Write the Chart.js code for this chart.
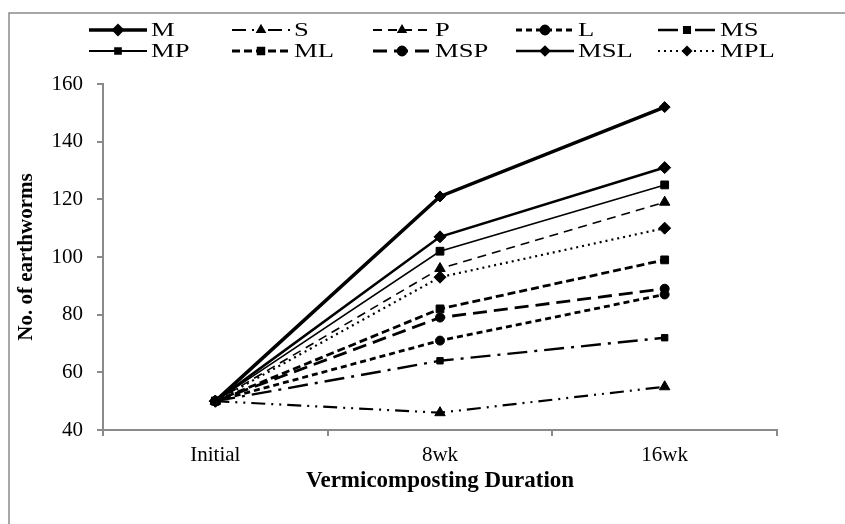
<!DOCTYPE html>
<html>
<head>
<meta charset="utf-8">
<script src="https://cdn.jsdelivr.net/npm/chart.js@4.4.0/dist/chart.umd.min.js"></script>
<style>
  html, body { margin: 0; padding: 0; background: #fff; }
  #wrap { width: 845px; height: 524px; }
</style>
</head>
<body>
<div id="wrap"><canvas id="chart"></canvas></div>
<script>
// data
const durations = ["Initial", "8wk", "16wk"];
const treatments = ["M", "S", "P", "L", "MS", "MP", "ML", "MSP", "MSL", "MPL"];
const M   = [50, 121, 152];
const S   = [50, 46, 55];
const P   = [50, 96, 119];
const L   = [50, 71, 87];
const MS  = [50, 64, 72];
const MP  = [50, 102, 125];
const ML  = [50, 82, 99];
const MSP = [50, 79, 89];
const MSL = [50, 107, 131];
const MPL = [50, 93, 110];
const yTicks = [40, 60, 80, 100, 120, 140, 160];

const serif = "'Liberation Serif', 'Times New Roman', serif";

// look of each series (line dash, width, marker)
const styles = {
  M:   { w: 3.5, dash: [],              pt: "rectRot",  r: 5.5 },
  S:   { w: 2.2, dash: [14, 6, 2, 6, 2, 6], pt: "triangle", r: 6 },
  P:   { w: 1.6, dash: [9, 6],          pt: "triangle", r: 6 },
  L:   { w: 2.8, dash: [6, 4],          pt: "circle",   r: 4.5 },
  MS:  { w: 2.4, dash: [20, 7, 3, 7],   pt: "rect",     r: 4.5 },
  MP:  { w: 1.6, dash: [],              pt: "rect",     r: 5.5 },
  ML:  { w: 2.8, dash: [8, 4],          pt: "rect",     r: 5.5 },
  MSP: { w: 2.8, dash: [14, 7],         pt: "circle",   r: 4.5 },
  MSL: { w: 2.6, dash: [],              pt: "rectRot",  r: 6 },
  MPL: { w: 2.2, dash: [2, 4],          pt: "rectRot",  r: 6 }
};
const values = { M, S, P, L, MS, MP, ML, MSP, MSL, MPL };

const datasets = treatments.map(name => {
  const s = styles[name];
  return {
    label: name,
    data: values[name],
    borderColor: "#000",
    backgroundColor: "#000",
    borderWidth: s.w,
    borderDash: s.dash,
    pointStyle: s.pt,
    pointRadius: s.r,
    pointHoverRadius: s.r,
    pointBorderWidth: 1,
    tension: 0
  };
});

// frame + two-row legend drawn like the original
const paperLegend = {
  id: "paperLegend",
  beforeDraw(chart) {
    const ctx = chart.ctx;
    ctx.save();
    ctx.strokeStyle = "#8a8a8a";
    ctx.lineWidth = 1.5;
    ctx.beginPath();
    ctx.moveTo(9, 530);
    ctx.lineTo(9, 13);
    ctx.lineTo(850, 13);
    ctx.stroke();
    ctx.restore();
  },
  afterDraw(chart) {
    const ctx = chart.ctx;
    const colX = [89, 232, 373, 516, 658];
    const rowY = [30, 51];
    ctx.save();
    ctx.font = "19px " + serif;
    ctx.textBaseline = "middle";
    ctx.fillStyle = "#000";
    chart.data.datasets.forEach((ds, i) => {
      const x = colX[i % 5], y = rowY[Math.floor(i / 5)];
      ctx.strokeStyle = "#000";
      ctx.lineWidth = Math.max(ds.borderWidth, 2);
      ctx.setLineDash(ds.borderDash);
      ctx.beginPath();
      ctx.moveTo(x, y);
      ctx.lineTo(x + 58, y);
      ctx.stroke();
      ctx.setLineDash([]);
      Chart.helpers.drawPoint(ctx, {
        pointStyle: ds.pointStyle, radius: 4, rotation: 0, borderWidth: 1
      }, x + 29, y);
      // the original legend text is drawn wide
      ctx.save();
      ctx.translate(x + 62, y + 1);
      ctx.scale(1.4, 1);
      ctx.fillText(ds.label, 0, 0);
      ctx.restore();
    });
    ctx.restore();
  }
};

new Chart(document.getElementById("chart"), {
  type: "line",
  data: { labels: durations, datasets: datasets },
  options: {
    responsive: true,
    maintainAspectRatio: false,
    animation: false,
    layout: { padding: { top: 84, right: 68, bottom: 28, left: 10 } },
    plugins: { legend: { display: false }, tooltip: { enabled: false } },
    scales: {
      x: {
        offset: true,
        grid: { offset: true, drawOnChartArea: false, tickLength: 6, color: "#8a8a8a", lineWidth: 2 },
        border: { color: "#8a8a8a", width: 2 },
        ticks: { color: "#000", font: { family: serif, size: 21 }, padding: 7 },
        title: { display: true, text: "Vermicomposting Duration", color: "#000",
                 font: { family: serif, size: 23, weight: "bold" }, padding: { top: 0, bottom: 1 } },
        afterFit(scale) { scale.height = 66; }
      },
      y: {
        min: 40, max: 160,
        afterBuildTicks(scale) { scale.ticks = yTicks.map(v => ({ value: v })); },
        grid: { drawOnChartArea: false, tickLength: 6, color: "#8a8a8a", lineWidth: 2 },
        border: { color: "#8a8a8a", width: 2 },
        ticks: { color: "#000", font: { family: serif, size: 21 }, padding: 14 },
        title: { display: true, text: "No. of earthworms", color: "#000",
                 font: { family: serif, size: 21, weight: "bold" }, padding: { top: 4, bottom: 0 } },
        afterFit(scale) { scale.width = 93; }
      }
    }
  },
  plugins: [paperLegend]
});
</script>
</body>
</html>
